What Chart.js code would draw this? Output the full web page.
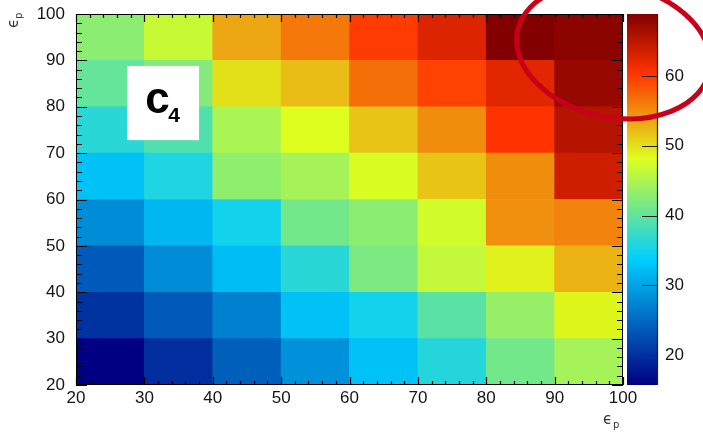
<!DOCTYPE html>
<html>
<head>
<meta charset="utf-8">
<title>c4 efficiency map</title>
<script src="https://cdn.jsdelivr.net/npm/chart.js@4.4.1/dist/chart.umd.min.js"></script>
<style>
  body { margin: 0; background: #fff; }
  #c4Chart { display: block; }
</style>
</head>
<body>
<canvas id="c4Chart" width="703" height="433"></canvas>
<script>
// bin edges on both efficiency axes
const xEdges = [20, 30, 40, 50, 60, 70, 80, 90, 100];
const yEdges = [20, 30, 40, 50, 60, 70, 80, 90, 100];
const axisTicks = [20, 30, 40, 50, 60, 70, 80, 90, 100];
const zTicks = [20, 30, 40, 50, 60];

// c4 per row of eps_y, bottom row first, columns eps_x = 20..100
const c4Row20 = [15.7, 19.7, 24.0, 28.4, 32.7, 36.1, 41.2, 44.5];
const c4Row30 = [20.1, 23.6, 27.0, 32.7, 35.0, 39.6, 43.5, 48.7];
const c4Row40 = [23.6, 28.0, 32.3, 36.4, 41.8, 46.4, 49.0, 52.7];
const c4Row50 = [28.0, 31.7, 35.0, 41.2, 42.8, 47.3, 54.8, 55.6];
const c4Row60 = [32.7, 35.7, 43.1, 44.5, 47.9, 51.7, 55.0, 63.8];
const c4Row70 = [36.4, 39.0, 44.8, 48.2, 51.7, 55.0, 60.4, 65.5];
const c4Row80 = [40.3, 42.3, 50.0, 52.1, 56.8, 59.5, 62.4, 67.5];
const c4Row90 = [42.8, 46.7, 53.5, 56.2, 59.9, 62.8, 68.9, 68.3];
const c4Rows = [c4Row20, c4Row30, c4Row40, c4Row50, c4Row60, c4Row70, c4Row80, c4Row90];

// z range of the palette
const zMin = 15.7;
const zMax = 68.9;

// rainbow palette (stops + rgb fractions)
const palStops = [0.00, 0.34, 0.61, 0.84, 1.00];
const palRed   = [0.00, 0.00, 0.87, 1.00, 0.51];
const palGreen = [0.00, 0.81, 1.00, 0.20, 0.00];
const palBlue  = [0.51, 1.00, 0.12, 0.00, 0.00];

const paletteAt = (i, f) => {
  const mix = (arr) => Math.round(255 * (arr[i] + f * (arr[i + 1] - arr[i])));
  return `rgb(${mix(palRed)}, ${mix(palGreen)}, ${mix(palBlue)})`;
};

const paletteColor = (v) => {
  let t = (v - zMin) / (zMax - zMin);
  t = Math.min(1, Math.max(0, t));
  let i = 0;
  while (i < palStops.length - 2 && t > palStops[i + 1]) i++;
  return paletteAt(i, (t - palStops[i]) / (palStops[i + 1] - palStops[i]));
};

const labelFont = { family: "'Liberation Sans', Arial, sans-serif", size: 17 };
const inkColor = '#151515';

// one floating-bar dataset per row of cells
const datasets = c4Rows.map((row, r) => ({
  label: `${yEdges[r]}-${yEdges[r + 1]}`,
  data: row.map((v, i) => ({ x: (xEdges[i] + xEdges[i + 1]) / 2, y: [yEdges[r], yEdges[r + 1]], c4: v })),
  backgroundColor: row.map(paletteColor),
  borderWidth: 0,
  barPercentage: 1,
  categoryPercentage: 1,
  grouped: false,
}));

// frame with inward ticks, colour bar, labels
const decorations = {
  id: 'decorations',
  afterDatasetsDraw(chart) {
    const { ctx, chartArea: a, scales: { x, y, z } } = chart;
    ctx.save();

    // c4 label box
    const bx0 = x.getPixelForValue(27.5), bx1 = x.getPixelForValue(38);
    const by0 = y.getPixelForValue(88.8), by1 = y.getPixelForValue(72.8);
    ctx.fillStyle = '#fff';
    ctx.fillRect(bx0, by0, bx1 - bx0, by1 - by0);
    ctx.fillStyle = '#000';
    ctx.textBaseline = 'alphabetic';
    ctx.font = "bold 44px 'Liberation Sans', Arial, sans-serif";
    ctx.fillText('c', bx0 + 18, by0 + 47);
    ctx.font = "bold 21px 'Liberation Sans', Arial, sans-serif";
    ctx.fillText('4', bx0 + 41, by0 + 56);

    // ticks on all four sides of the frame
    ctx.strokeStyle = '#000';
    ctx.lineWidth = 1.2;
    ctx.beginPath();
    for (let v = 20; v <= 100; v += 2) {
      const major = v % 10 === 0;
      const px = Math.round(x.getPixelForValue(v)) + 0.5;
      const lx = major ? 8 : 4;
      ctx.moveTo(px, a.bottom); ctx.lineTo(px, a.bottom - lx);
      ctx.moveTo(px, a.top); ctx.lineTo(px, a.top + lx);
      const py = Math.round(y.getPixelForValue(v)) + 0.5;
      const ly = major ? 11 : 6;
      ctx.moveTo(a.left, py); ctx.lineTo(a.left + ly, py);
      ctx.moveTo(a.right, py); ctx.lineTo(a.right - ly, py);
    }
    ctx.stroke();
    ctx.lineWidth = 1;
    ctx.strokeRect(a.left + 0.5, a.top + 0.5, a.right - a.left - 1, a.bottom - a.top - 1);

    // colour bar
    const cx0 = a.right + 4, cx1 = a.right + 34;
    const grad = ctx.createLinearGradient(0, z.bottom, 0, z.top);
    palStops.forEach((s, i) => {
      const j = Math.min(i, palStops.length - 2);
      grad.addColorStop(s, paletteAt(j, i === palStops.length - 1 ? 1 : 0));
    });
    ctx.fillStyle = grad;
    ctx.fillRect(cx0, z.top, cx1 - cx0, z.bottom - z.top);
    ctx.strokeStyle = '#222';
    ctx.lineWidth = 1.2;
    ctx.beginPath();
    ctx.moveTo(cx1 + 0.5, z.top); ctx.lineTo(cx1 + 0.5, z.bottom);
    zTicks.forEach(v => {
      const py = Math.round(z.getPixelForValue(v)) + 0.5;
      ctx.moveTo(cx1, py); ctx.lineTo(cx1 - 15, py);
    });
    ctx.stroke();

    // axis titles
    ctx.fillStyle = '#333';
    ctx.font = "15px 'DejaVu Sans', sans-serif";
    ctx.fillText('\u03f5', 603, 424);
    ctx.font = "10px 'DejaVu Sans', sans-serif";
    ctx.fillText('p', 613, 428);
    ctx.translate(18, 28);
    ctx.rotate(-Math.PI / 2);
    ctx.font = "15px 'DejaVu Sans', sans-serif";
    ctx.fillText('\u03f5', 0, 0);
    ctx.font = "10px 'DejaVu Sans', sans-serif";
    ctx.fillText('p', 9, 4);
    ctx.restore();
  },
  afterDraw(chart) {
    // highlight ring round the top-right corner
    const { ctx, scales: { x, y } } = chart;
    const cx = x.getPixelForValue(98.6), cy = y.getPixelForValue(92.0);
    ctx.save();
    ctx.strokeStyle = '#c8001a';
    ctx.lineWidth = 5;
    ctx.beginPath();
    ctx.ellipse(cx, cy, 98, 66, 12 * Math.PI / 180, 0, 2 * Math.PI);
    ctx.stroke();
    ctx.restore();
  }
};

const fixedTicks = (list) => (scale) => { scale.ticks = list.map(value => ({ value })); };
// fixed box sizes, no extra label padding at the ends
const fitWidth = (w) => (s) => { s.width = w; s.paddingTop = 0; s.paddingBottom = 0; };
const fitHeight = (h) => (s) => { s.height = h; s.paddingLeft = 0; s.paddingRight = 0; };

new Chart(document.getElementById('c4Chart'), {
  type: 'bar',
  data: { datasets },
  options: {
    responsive: false,
    animation: false,
    layout: { padding: { top: 14, left: 0, right: 0, bottom: 0 } },
    plugins: { legend: { display: false }, tooltip: { enabled: false } },
    scales: {
      x: {
        type: 'linear', min: 20, max: 100, offset: false,
        grid: { display: false, drawTicks: false }, border: { display: false },
        ticks: { padding: 3, color: inkColor, font: labelFont, maxRotation: 0, autoSkip: false },
        afterBuildTicks: fixedTicks(axisTicks),
        afterFit: fitHeight(48)
      },
      y: {
        type: 'linear', min: 20, max: 100,
        grid: { display: false, drawTicks: false }, border: { display: false },
        ticks: { padding: 11, color: inkColor, font: labelFont, autoSkip: false },
        afterBuildTicks: fixedTicks(axisTicks),
        afterFit: fitWidth(76)
      },
      z: {
        type: 'linear', position: 'right', min: zMin, max: zMax,
        grid: { display: false, drawTicks: false }, border: { display: false },
        ticks: { padding: 42, color: inkColor, font: labelFont, includeBounds: false },
        afterBuildTicks: fixedTicks(zTicks),
        afterFit: fitWidth(80)
      }
    }
  },
  plugins: [decorations]
});
</script>
</body>
</html>
